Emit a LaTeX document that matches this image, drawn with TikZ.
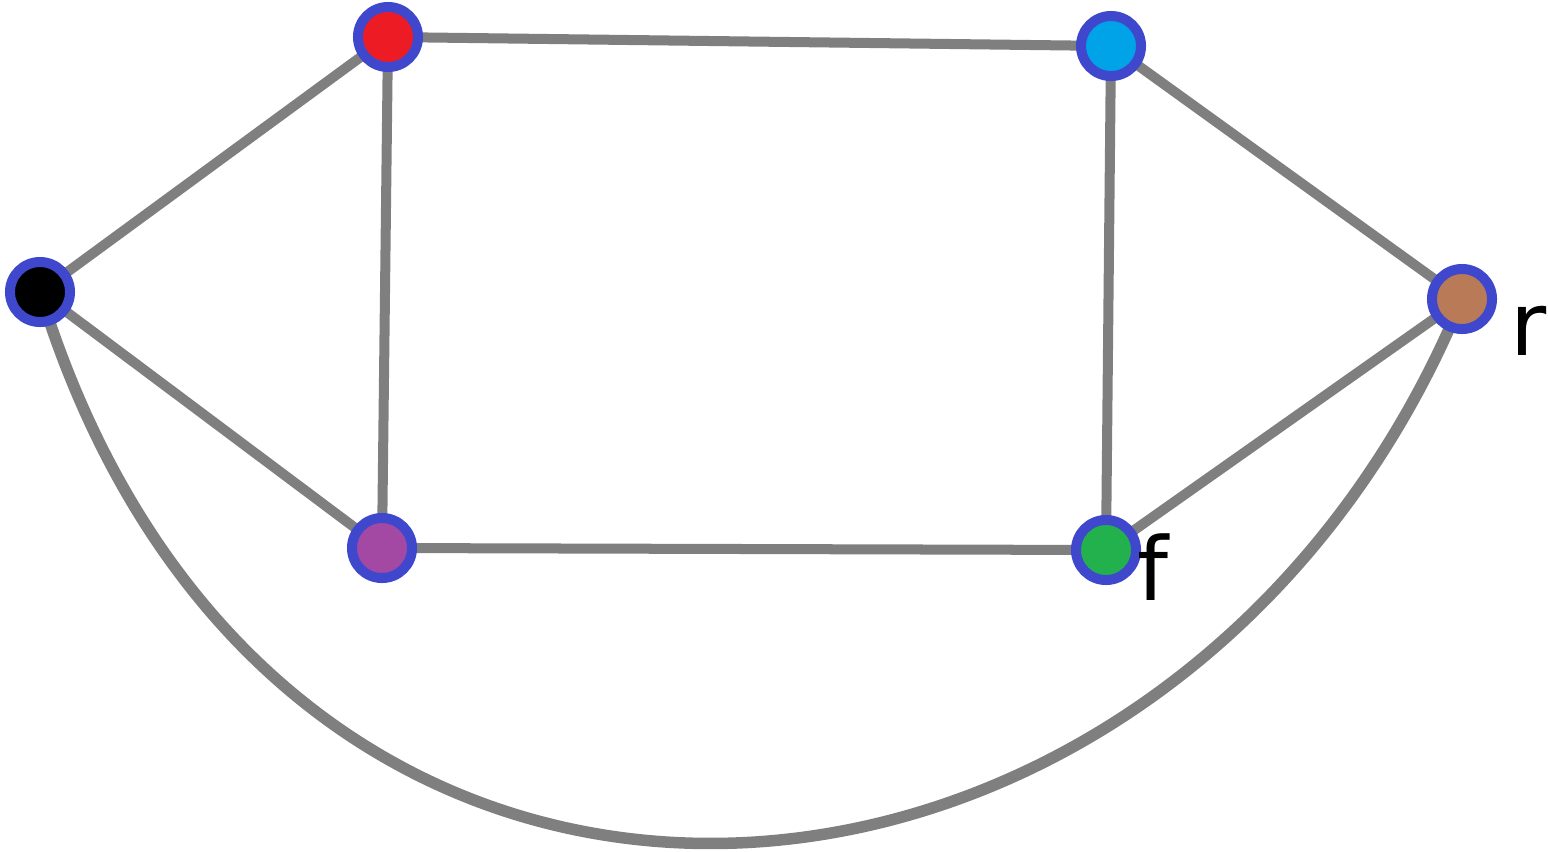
\documentclass[tikz,border=0pt]{standalone}
\usepackage{fontspec}
\setmainfont{DejaVu Sans}
\definecolor{edgegray}{HTML}{7F7F7F}
\definecolor{rimblue}{HTML}{3F48CC}
\definecolor{cred}{HTML}{ED1C24}
\definecolor{cblue}{HTML}{00A2E8}
\definecolor{cbrown}{HTML}{B97A57}
\definecolor{cpurple}{HTML}{A349A4}
\definecolor{cgreen}{HTML}{22B14C}
\begin{document}
\begin{tikzpicture}[x=0.01cm,y=-0.01cm,
  vertex/.style={circle,draw=rimblue,line width=0.1cm,minimum size=0.6cm,inner sep=0pt},
  edge/.style={draw=edgegray,line width=0.1cm},
  arcedge/.style={draw=edgegray,line width=0.115cm},
  lbl/.style={font=\fontsize{25}{30}\selectfont,inner sep=0pt,anchor=base}]
\useasboundingbox (0,0) rectangle (1548,851);
\coordinate (pk) at (40,292);
\coordinate (pr) at (388,37);
\coordinate (pb) at (1111,46);
\coordinate (pn) at (1462,299);
\coordinate (pp) at (382,548);
\coordinate (pg) at (1106,550);
% edges
\path[edge] (pk) -- (pr);
\path[edge] (pk) -- (pp);
\path[edge] (pr) -- (pb);
\path[edge] (pr) -- (pp);
\path[edge] (pb) -- (pg);
\path[edge] (pb) -- (pn);
\path[edge] (pp) -- (pg);
\path[edge] (pg) -- (pn);
\path[arcedge] (pk) .. controls +(240,780) and +(-280,680) .. (pn);
% vertices
\node[vertex,fill=black] (black) at (pk) {};
\node[vertex,fill=cred] (red) at (pr) {};
\node[vertex,fill=cblue] (blue) at (pb) {};
\node[vertex,fill=cbrown] (brown) at (pn) {};
\node[vertex,fill=cpurple] (purple) at (pp) {};
\node[vertex,fill=cgreen] (green) at (pg) {};
% labels
\node[lbl] (rlabel) at (1529,355) {r};
\node[lbl] (flabel) at (1153,600) {f};
\end{tikzpicture}
\end{document}
